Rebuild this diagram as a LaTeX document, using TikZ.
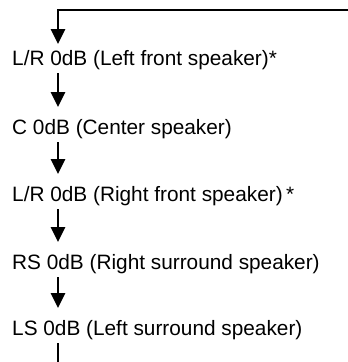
\documentclass[tikz,border=0pt]{standalone}
\usepackage{fontspec}
\setmainfont{Liberation Sans}
\usetikzlibrary{arrows.meta}
\begin{document}
\begin{tikzpicture}[x=1pt,y=-1pt,
  lbl/.style={anchor=base west,inner sep=0pt,font=\fontsize{20.8}{24}\selectfont},
  flow/.style={line width=2.6pt,-{Triangle[width=14pt,length=15pt]}},
  plain/.style={line width=2.6pt}]
\useasboundingbox (0,0) rectangle (348,362);
\coordinate (vx) at (58,0);
\coordinate (tr) at (348,10);
\coordinate (tl) at (58,10);
\coordinate (bot) at (58,362);
\node[lbl] (n1) at (12,65) {L/R 0dB (Left front speaker)*};
\node[lbl] (n2) at (12,134) {C 0dB (Center speaker)};
\node[lbl] (n3) at (12,201) {L/R 0dB (Right front speaker)\,*};
\node[lbl] (n4) at (12,269) {RS 0dB (Right surround speaker)};
\node[lbl] (n5) at (12,335) {LS 0dB (Left surround speaker)};
\draw[flow] (tr) -- (tl) -- ([yshift=21pt]n1.base -| vx);
\draw[flow] ([yshift=-8pt]n1.base -| vx) -- ([yshift=27pt]n2.base -| vx);
\draw[flow] ([yshift=-8pt]n2.base -| vx) -- ([yshift=27pt]n3.base -| vx);
\draw[flow] ([yshift=-8pt]n3.base -| vx) -- ([yshift=27pt]n4.base -| vx);
\draw[flow] ([yshift=-8pt]n4.base -| vx) -- ([yshift=27pt]n5.base -| vx);
\draw[plain] ([yshift=-8pt]n5.base -| vx) -- (bot);
\end{tikzpicture}
\end{document}
